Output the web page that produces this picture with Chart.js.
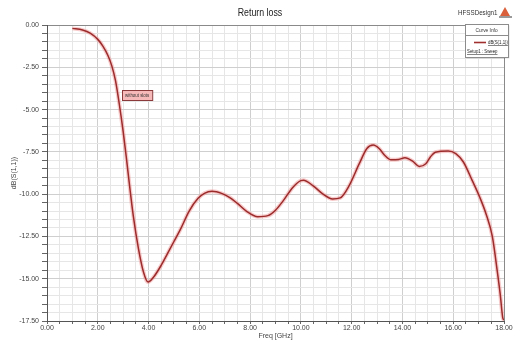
<!DOCTYPE html>
<html>
<head>
<meta charset="utf-8">
<script src="https://cdn.jsdelivr.net/npm/chart.js@4/dist/chart.umd.min.js"></script>
<style>
  html, body { margin: 0; padding: 0; background: #ffffff; }
  #wrap { width: 515px; height: 340px; position: relative; }
</style>
</head>
<body>
<div id="wrap"><canvas id="c" width="515" height="340"></canvas></div>
<script>
// Return loss sweep, dB(S(1,1)) versus frequency
const freqGHz = [1.0, 1.4, 1.7, 2.0, 2.2, 2.4, 2.55, 2.7, 2.85, 3.0, 3.13, 3.26, 3.4, 3.6, 3.8, 3.98,
  4.2, 4.5, 4.75, 5.0, 5.25, 5.6, 5.95, 6.2, 6.5, 6.9, 7.2, 7.5, 7.85, 8.3, 8.7, 9.0, 9.3, 9.68,
  10.0, 10.1, 10.47, 10.86, 11.25, 11.55, 11.9, 12.3, 12.6, 12.85, 13.08, 13.3, 13.55, 13.85, 14.1,
  14.4, 14.66, 14.92, 15.1, 15.3, 15.8, 16.1, 16.4, 16.75, 17.05, 17.3, 17.54, 17.73, 17.85, 17.95, 18.0];
const s11dB = [-0.20, -0.30, -0.48, -0.85, -1.25, -1.8, -2.4, -3.3, -4.7, -6.3, -7.9, -9.6, -11.3, -13.2, -14.6, -15.2,
  -14.9, -14.2, -13.5, -12.8, -12.1, -11.0, -10.25, -9.95, -9.83, -9.97, -10.2, -10.55, -11.0, -11.33, -11.27, -10.95, -10.4, -9.6,
  -9.2, -9.18, -9.49, -9.98, -10.28, -10.22, -9.5, -8.2, -7.3, -7.1, -7.3, -7.7, -7.97, -7.95, -7.85,
  -8.05, -8.36, -8.2, -7.8, -7.52, -7.45, -7.6, -8.1, -9.2, -10.2, -11.2, -12.5, -14.5, -15.9, -17.3, -17.45];

const xTickLabels = ['0.00', '2.00', '4.00', '6.00', '8.00', '10.00', '12.00', '14.00', '16.00', '18.00'];
const yTickLabels = ['0.00', '-2.50', '-5.00', '-7.50', '-10.00', '-12.50', '-15.00', '-17.50'];

const chartTitle = 'Return loss';
const designName = 'HFSSDesign1';
const traceName = 'dB(S(1,1))';
const setupName = 'Setup1 : Sweep';
const markerNote = 'without slots';

const points = freqGHz.map((f, i) => ({ x: f, y: s11dB[i] }));
const FONT = '"Liberation Sans", Arial, sans-serif';

function isMultiple(v, step) {
  const q = v / step;
  return Math.abs(q - Math.round(q)) < 1e-6;
}

// draws horizontally condensed text, returns its drawn width
function narrowText(ctx, text, x, y, sx, align) {
  const w = ctx.measureText(text).width * sx;
  let left = x;
  if (align === 'center') left = x - w / 2;
  else if (align === 'right') left = x - w;
  ctx.save();
  ctx.textAlign = 'left';
  ctx.translate(left, y);
  ctx.scale(sx, 1);
  ctx.fillText(text, 0, 0);
  ctx.restore();
  return w;
}

const extras = {
  id: 'extras',
  afterDraw(chart) {
    const ctx = chart.ctx;
    ctx.save();
    ctx.textBaseline = 'middle';
    // heading
    ctx.fillStyle = '#222';
    ctx.font = '11px ' + FONT;
    narrowText(ctx, chartTitle, 260, 13, 0.8, 'center');
    // design name + logo
    ctx.font = '8px ' + FONT;
    ctx.fillStyle = '#333';
    narrowText(ctx, designName, 458, 13, 0.78, 'left');
    ctx.beginPath();
    ctx.moveTo(505, 7); ctx.lineTo(510, 16); ctx.lineTo(500, 16); ctx.closePath();
    ctx.fillStyle = '#d9603a'; ctx.fill();
    ctx.fillStyle = '#9a9a9a';
    ctx.fillRect(499, 16, 13, 2);

    // curve info box
    const bx = 465, by = 24, bw = 43, bh = 33;
    ctx.fillStyle = 'rgba(0,0,0,0.12)';
    ctx.fillRect(bx + 1.5, by + 1.5, bw, bh);
    ctx.fillStyle = '#ffffff';
    ctx.fillRect(bx, by, bw, bh);
    ctx.strokeStyle = '#8c8c8c';
    ctx.lineWidth = 1;
    ctx.strokeRect(bx + 0.5, by + 0.5, bw, bh);
    ctx.beginPath();
    ctx.moveTo(bx + 0.5, by + 11.5); ctx.lineTo(bx + bw + 0.5, by + 11.5); ctx.stroke();
    ctx.fillStyle = '#333';
    ctx.font = '6px ' + FONT;
    narrowText(ctx, 'Curve Info', bx + bw / 2, by + 6, 0.8, 'center');
    ctx.strokeStyle = '#a03030';
    ctx.lineWidth = 1.6;
    ctx.beginPath(); ctx.moveTo(bx + 9, by + 18.5); ctx.lineTo(bx + 21, by + 18.5); ctx.stroke();
    ctx.fillStyle = '#222';
    let w = narrowText(ctx, traceName, bx + 23, by + 18, 0.72, 'left');
    ctx.strokeStyle = '#333'; ctx.lineWidth = 0.6;
    ctx.beginPath(); ctx.moveTo(bx + 23, by + 21.5); ctx.lineTo(bx + 23 + w, by + 21.5); ctx.stroke();
    w = narrowText(ctx, setupName, bx + 2, by + 27, 0.72, 'left');
    ctx.beginPath(); ctx.moveTo(bx + 2, by + 30.5); ctx.lineTo(bx + 2 + w, by + 30.5); ctx.stroke();

    // marker note
    ctx.font = '5.5px ' + FONT;
    const tw = ctx.measureText(markerNote).width * 0.8;
    const nw = tw + 6;
    const nx = 122, ny = 90, nh = 10;
    ctx.fillStyle = '#f6b9b9';
    ctx.fillRect(nx, ny, nw, nh);
    ctx.strokeStyle = '#8a3a3a';
    ctx.lineWidth = 1;
    ctx.strokeRect(nx + 0.5, ny + 0.5, nw, nh);
    ctx.fillStyle = '#333';
    narrowText(ctx, markerNote, nx + 3, ny + nh / 2 + 0.5, 0.8, 'left');
    ctx.restore();
  }
};

new Chart(document.getElementById('c'), {
  type: 'line',
  data: {
    datasets: [
      {
        label: traceName,
        data: points,
        borderColor: '#9c2b2c',
        borderWidth: 1.5,
        pointRadius: 0,
        cubicInterpolationMode: 'monotone',
        fill: false,
        order: 0
      },
      {
        label: 'halo',
        data: points,
        borderColor: 'rgba(238,140,140,0.45)',
        borderWidth: 4,
        pointRadius: 0,
        cubicInterpolationMode: 'monotone',
        fill: false,
        order: 1
      }
    ]
  },
  options: {
    responsive: false,
    animation: false,
    devicePixelRatio: 1,
    layout: { padding: { top: 25, right: 11, left: 0, bottom: 0 } },
    plugins: { legend: { display: false }, tooltip: { enabled: false }, title: { display: false } },
    scales: {
      x: {
        type: 'linear',
        min: 0, max: 18,
        afterFit(s) { s.height = 19; },
        ticks: {
          stepSize: 0.5,
          autoSkip: false,
          maxRotation: 0,
          padding: 0,
          color: '#444',
          font: { family: FONT, size: 7 },
          callback(v) { return isMultiple(v, 2) ? xTickLabels[Math.round(v / 2)] : ''; }
        },
        grid: {
          tickLength: 3,
          tickColor: '#666',
          color(c) {
            const v = c.tick ? c.tick.value : 0;
            if (Math.abs(v - 18) < 1e-6) return '#8a8a8a';
            return isMultiple(v, 2) ? '#cfcfcf' : '#e6e6e6';
          },
          lineWidth: 1
        },
        border: { color: '#555', width: 1 },
        title: {
          display: true,
          text: 'Freq [GHz]',
          color: '#444',
          font: { family: FONT, size: 7 },
          padding: { top: 0, bottom: 0 }
        }
      },
      y: {
        type: 'linear',
        min: -17.5, max: 0,
        afterFit(s) { s.width = 47; },
        ticks: {
          stepSize: 0.5,
          autoSkip: false,
          padding: 3,
          color: '#444',
          font: { family: FONT, size: 7 },
          callback(v) { return isMultiple(v, 2.5) ? yTickLabels[Math.round(-v / 2.5)] : ''; }
        },
        grid: {
          tickLength: 5,
          tickColor: '#666',
          color(c) {
            const v = c.tick ? c.tick.value : 0;
            if (Math.abs(v) < 1e-6) return '#8a8a8a';
            return isMultiple(v, 2.5) ? '#cfcfcf' : '#e6e6e6';
          },
          lineWidth: 1
        },
        border: { color: '#555', width: 1 },
        title: {
          display: true,
          text: 'dB(S(1,1))',
          color: '#444',
          font: { family: FONT, size: 7 },
          padding: { top: 10, bottom: 0 }
        }
      }
    }
  },
  plugins: [extras]
});
</script>
</body>
</html>
